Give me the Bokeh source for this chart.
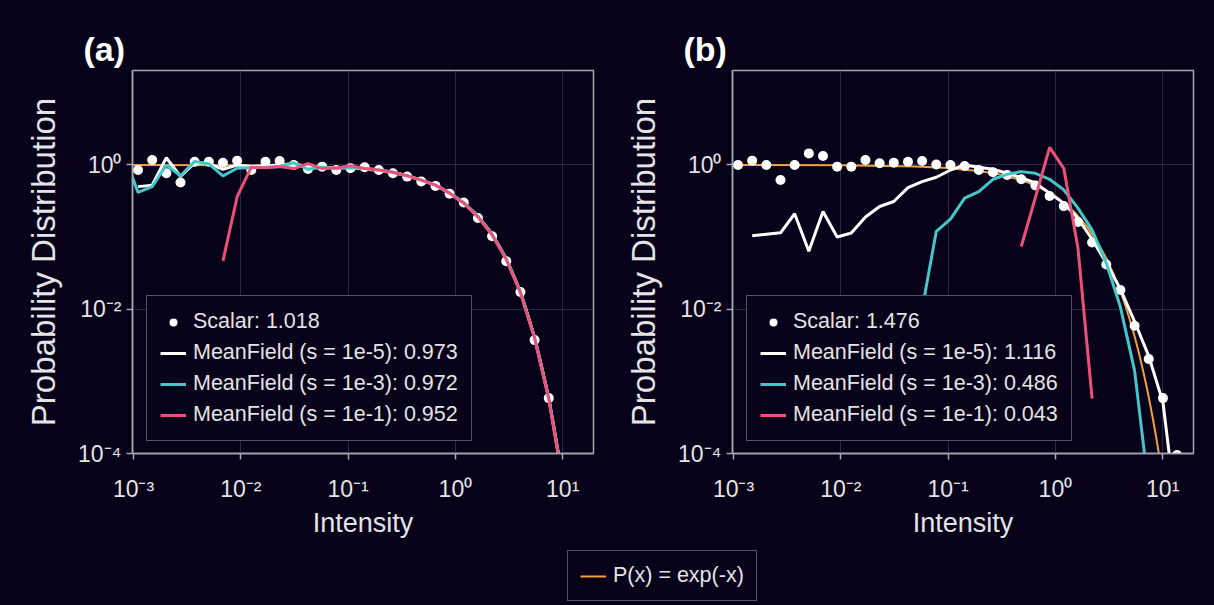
from bokeh.plotting import figure
from bokeh.models import (FixedTicker, CustomJSTickFormatter, Legend, LegendItem, Range1d)
from bokeh.layouts import row, column
from bokeh.embed import file_html
from bokeh.resources import INLINE

# ---------------- data ----------------
# shared log-spaced intensity bins
intensity_bins = [0.000813, 0.001102, 0.001493, 0.002023, 0.002742, 0.003715, 0.005035,
                  0.006823, 0.009247, 0.01253, 0.01698, 0.02301, 0.03119, 0.04227,
                  0.05728, 0.07762, 0.1052, 0.1426, 0.1932, 0.2618, 0.3548, 0.4808,
                  0.6516, 0.8831, 1.197, 1.622, 2.198, 2.979, 4.036, 5.470, 7.413,
                  10.05, 13.61]

# panel (a): log10 of probability
a_scalar_log10 = [-0.069, 0.069, -0.115, -0.244, 0.046, 0.046, 0.032, 0.059, -0.069, 0.046,
                  0.055, 0.000, -0.055, -0.023, -0.069, -0.046, -0.032, -0.069, -0.115, -0.161,
                  -0.230, -0.290, -0.400, -0.520, -0.736, -0.989, -1.333, -1.761, -2.428, -3.232]
a_white_log10 = [-0.30, -0.28, 0.10, -0.16, 0.03, 0.02, -0.06, 0.00, -0.02, -0.01, 0.00, 0.02,
                 -0.03, -0.04, -0.04, -0.03, -0.05, -0.07, -0.10, -0.15, -0.21, -0.28, -0.39,
                 -0.53, -0.71, -0.96, -1.30, -1.76, -2.39, -3.23, -4.38]
a_cyan_log10 = [0.15, -0.38, -0.30, 0.00, -0.15, 0.05, 0.015, -0.15, -0.045, -0.035, -0.03,
                -0.02, 0.03, -0.06, -0.03, -0.05, -0.04, -0.05, -0.07, -0.10, -0.15, -0.21,
                -0.28, -0.39, -0.52, -0.71, -0.96, -1.30, -1.76, -2.39, -3.23, -4.38]
a_pink_log10 = [-1.33, -0.44, -0.03, -0.04, -0.02, -0.05, 0.02, -0.05, -0.04, -0.01, -0.05,
                -0.07, -0.10, -0.15, -0.21, -0.28, -0.39, -0.53, -0.72, -0.97, -1.31, -1.77,
                -2.40, -3.24, -4.40]

# panel (b)
b_scalar_log10 = [0.0, 0.06, 0.0, -0.207, 0.0, 0.161, 0.124, -0.023, -0.023, 0.069, 0.023,
                  0.032, 0.046, 0.055, 0.007, 0.0, -0.014, -0.069, -0.101, -0.138, -0.198,
                  -0.285, -0.43, -0.57, -0.79, -1.075, -1.379, -1.733, -2.23, -2.69, -3.232, -4.02]
b_white_log10 = [-0.98, -0.96, -0.94, -0.676, -1.195, -0.644, -0.998, -0.943, -0.722, -0.575,
                 -0.506, -0.313, -0.230, -0.170, -0.069, 0.0, -0.03, -0.06, -0.115, -0.175,
                 -0.25, -0.39, -0.53, -0.74, -1.03, -1.36, -1.72, -2.17, -2.65, -3.29, -4.9]
b_cyan_log10 = [-2.0, -0.92, -0.75, -0.46, -0.368, -0.198, -0.129, -0.092, -0.115, -0.198,
                -0.345, -0.598, -0.90, -1.36, -1.97, -2.85, -4.5]
b_pink_log10 = [-1.13, -0.45, 0.244, -0.046, -1.15, -3.24]

# theory P(x) = exp(-x), tabulated
theory_x = [0.0005, 0.001, 0.01, 0.05, 0.1, 0.2, 0.3, 0.5, 0.7, 1.0, 1.5, 2.0, 2.5, 3.0, 3.5,
            4.0, 4.5, 5.0, 5.5, 6.0, 6.5, 7.0, 7.5, 8.0, 8.5, 9.0, 9.5, 10.0, 11.0]
theory_p = [0.9995, 0.9990, 0.9900, 0.9512, 0.9048, 0.8187, 0.7408, 0.6065, 0.4966, 0.3679,
            0.2231, 0.1353, 0.08208, 0.04979, 0.03020, 0.01832, 0.01111, 0.006738, 0.004087,
            0.002479, 0.001503, 0.0009119, 0.0005531, 0.0003355, 0.0002035, 0.0001234,
            7.485e-05, 4.540e-05, 1.670e-05]

a_labels = ["Scalar: 1.018", "MeanField (s = 1e-5): 0.973",
            "MeanField (s = 1e-3): 0.972", "MeanField (s = 1e-1): 0.952"]
b_labels = ["Scalar: 1.476", "MeanField (s = 1e-5): 1.116",
            "MeanField (s = 1e-3): 0.486", "MeanField (s = 1e-1): 0.043"]
theory_label = "P(x) = exp(-x)"

x_ticks = [1e-3, 1e-2, 1e-1, 1e0, 1e1]
y_ticks = [1e-4, 1e-2, 1e0]

# ---------------- style ----------------
BG = "#07011a"
FRAME = "#a8a8b0"
GRID = "#2a283e"
TXT = "#e4e4e4"
WHITE = "#ffffff"
CYAN = "#45c6c8"
PINK = "#ec5078"
ORANGE = "#f0a03c"
FONT = "Liberation Sans"

SUP_JS = """
const sup = {"-": "\u207b", "0": "\u2070", "1": "\u00b9", "2": "\u00b2", "3": "\u00b3",
             "4": "\u2074", "5": "\u2075", "6": "\u2076", "7": "\u2077", "8": "\u2078", "9": "\u2079"};
const e = Math.round(Math.log10(tick));
return "10" + String(e).split("").map(c => sup[c]).join("");
"""


def pow10(vals):
    return [10 ** v for v in vals]


def make_panel(tag, width, right_border, scalar, white, cyan, pink, labels):
    (sx, sy), (wx, wy), (cx, cy), (px, py) = scalar, white, cyan, pink
    p = figure(width=width, height=540, x_axis_type="log", y_axis_type="log",
               x_range=Range1d(10 ** -3.0093, 10 ** 1.287),
               y_range=Range1d(1e-4, 10 ** 1.31),
               output_backend="svg", toolbar_location=None,
               min_border_left=132, min_border_right=right_border,
               min_border_top=70, min_border_bottom=85,
               background_fill_color=BG, border_fill_color=BG,
               styles={"background-color": BG})
    p.title.text = tag
    p.title.align = "left"
    p.title.offset = -49
    p.title.standoff = 5
    p.title.text_font = FONT
    p.title.text_font_size = "34px"
    p.title.text_font_style = "bold"
    p.title.text_color = WHITE

    p.outline_line_color = FRAME
    p.outline_line_width = 1.5
    p.grid.grid_line_color = GRID
    p.grid.grid_line_width = 1

    p.xaxis.ticker = FixedTicker(ticks=x_ticks, minor_ticks=[])
    p.yaxis.ticker = FixedTicker(ticks=y_ticks, minor_ticks=[])
    for ax in (p.xaxis[0], p.yaxis[0]):
        ax.formatter = CustomJSTickFormatter(code=SUP_JS)
        ax.axis_line_color = FRAME
        ax.axis_line_width = 1.5
        ax.major_tick_line_color = FRAME
        ax.major_tick_line_width = 1.5
        ax.major_tick_out = 6
        ax.major_tick_in = 0
        ax.minor_tick_out = 0
        ax.minor_tick_in = 0
        ax.major_label_text_color = TXT
        ax.major_label_text_font = FONT
        ax.major_label_text_font_size = "23px"
        ax.axis_label_text_color = TXT
        ax.axis_label_text_font = FONT
        ax.axis_label_text_font_style = "normal"
    p.xaxis.axis_label = "Intensity"
    p.xaxis.axis_label_text_font_size = "27px"
    p.xaxis.major_label_standoff = 16
    p.xaxis.axis_label_standoff = 3
    p.yaxis.axis_label = "Probability Distribution"
    p.yaxis.axis_label_text_font_size = "33px"
    p.yaxis.major_label_standoff = 5
    p.yaxis.axis_label_standoff = 13

    p.line(theory_x, theory_p, line_color=ORANGE, line_width=2)
    r_s = p.scatter(sx, pow10(sy), size=10, fill_color=WHITE, line_color=None)
    r_w = p.line(wx, pow10(wy), line_color=WHITE, line_width=3)
    r_c = p.line(cx, pow10(cy), line_color=CYAN, line_width=3)
    r_p = p.line(px, pow10(py), line_color=PINK, line_width=3)

    legend = Legend(items=[LegendItem(label=labels[0], renderers=[r_s]),
                           LegendItem(label=labels[1], renderers=[r_w]),
                           LegendItem(label=labels[2], renderers=[r_c]),
                           LegendItem(label=labels[3], renderers=[r_p])],
                    location=(14, 12), margin=0, padding=13, spacing=6,
                    glyph_width=26, glyph_height=20, label_height=20, label_standoff=7,
                    label_text_font=FONT, label_text_font_size="21.5px",
                    label_text_color=TXT, border_line_color=FRAME, border_line_width=1.5,
                    background_fill_color=BG, background_fill_alpha=1.0)
    p.add_layout(legend)
    return p


B = intensity_bins
pa = make_panel("(a)", 600, 7,
                (B[1:31], a_scalar_log10), (B[1:32], a_white_log10),
                (B[0:32], a_cyan_log10), (B[7:32], a_pink_log10), a_labels)
pb = make_panel("(b)", 614, 21,
                (B[1:33], b_scalar_log10), (B[2:33], b_white_log10),
                (B[14:31], b_cyan_log10), (B[21:27], b_pink_log10), b_labels)

# bottom shared legend
pl = figure(width=1214, height=65, x_range=Range1d(-2, -1), y_range=Range1d(-2, -1),
            output_backend="svg", toolbar_location=None, min_border=0,
            x_axis_location=None, y_axis_location=None,
            background_fill_color=BG, border_fill_color=BG,
            styles={"background-color": BG})
pl.grid.visible = False
pl.outline_line_color = None
r_t = pl.line(theory_x, theory_p, line_color=ORANGE, line_width=2)
leg = Legend(items=[LegendItem(label=theory_label, renderers=[r_t])],
             location=(567, 4), margin=0, padding=12, glyph_width=26, glyph_height=20,
             label_height=20, label_standoff=7, label_text_font=FONT,
             label_text_font_size="21.5px", label_text_color=TXT,
             border_line_color=FRAME, border_line_width=1.5,
             background_fill_color=BG, background_fill_alpha=1.0)
pl.add_layout(leg)

layout = column(row(pa, pb, styles={"background-color": BG}), pl,
                styles={"background-color": BG})
open("out.html", "w").write(file_html(layout, INLINE))
